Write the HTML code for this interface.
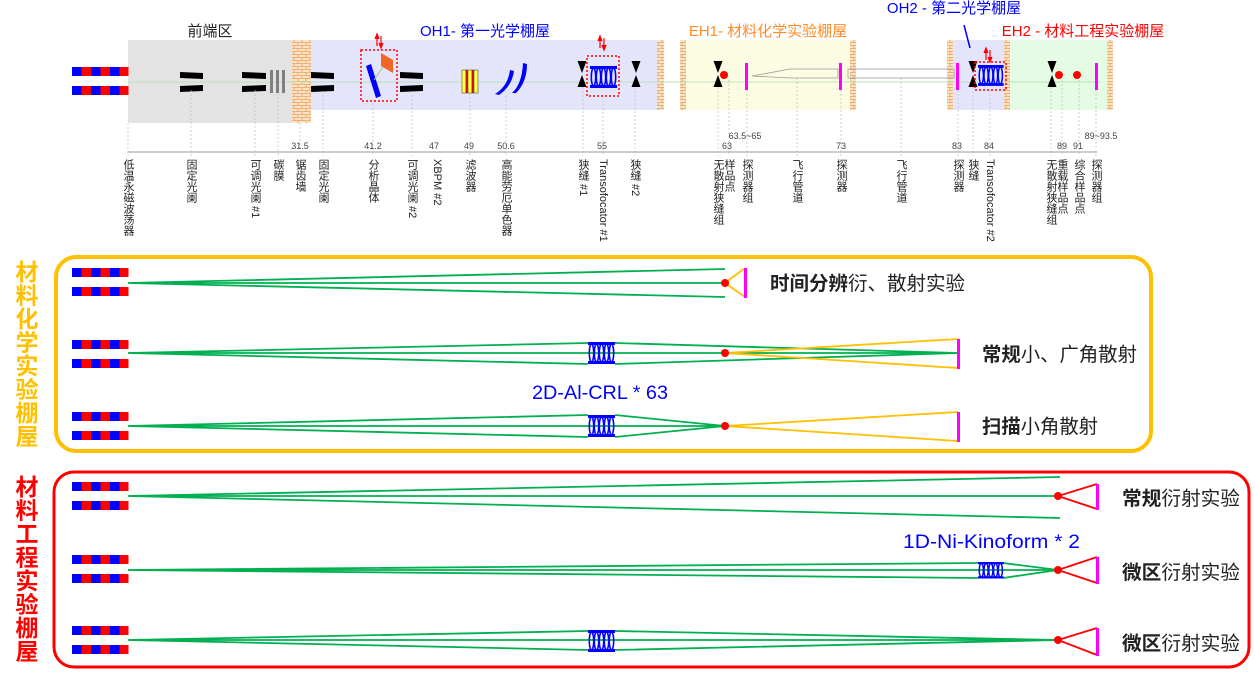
<!DOCTYPE html>
<html><head><meta charset="utf-8"><style>
body{margin:0;background:#fff;}
svg{display:block;font-family:"Liberation Sans","Noto Sans CJK SC",sans-serif;}
.vl{font-size:11px;fill:#222;writing-mode:tb;}
.num{font-size:9px;fill:#444;}
</style></head><body>
<svg width="1255" height="683" viewBox="0 0 1255 683" xmlns="http://www.w3.org/2000/svg">
<defs>
<pattern id="brick" width="8" height="6" patternUnits="userSpaceOnUse">
<rect width="8" height="6" fill="#fbe3c8"/>
<path d="M0 0.5H8M0 3.5H8M2 0.5V3.5M6 3.5V6" stroke="#e8a25a" stroke-width="0.8" fill="none"/>
</pattern>
<g id="und">
<rect x="0" y="0" width="9.5" height="9" fill="#0000ff"/><rect x="9.5" y="0" width="9.5" height="9" fill="#ff0000"/>
<rect x="19" y="0" width="9.5" height="9" fill="#0000ff"/><rect x="28.5" y="0" width="9.5" height="9" fill="#ff0000"/>
<rect x="38" y="0" width="9.5" height="9" fill="#0000ff"/><rect x="47.5" y="0" width="9" height="9" fill="#ff0000"/>
<rect x="0" y="19" width="9.5" height="9" fill="#0000ff"/><rect x="9.5" y="19" width="9.5" height="9" fill="#ff0000"/>
<rect x="19" y="19" width="9.5" height="9" fill="#0000ff"/><rect x="28.5" y="19" width="9.5" height="9" fill="#ff0000"/>
<rect x="38" y="19" width="9.5" height="9" fill="#0000ff"/><rect x="47.5" y="19" width="9" height="9" fill="#ff0000"/>
</g>
<g id="crl">
<rect x="0" y="0" width="27" height="3" fill="#0000ff"/><rect x="0" y="19" width="27" height="3" fill="#0000ff"/>
<g fill="none" stroke="#0000ff" stroke-width="1.6">
<ellipse cx="3.5" cy="11" rx="2.2" ry="9"/><ellipse cx="8.5" cy="11" rx="2.2" ry="9"/><ellipse cx="13.5" cy="11" rx="2.2" ry="9"/><ellipse cx="18.5" cy="11" rx="2.2" ry="9"/><ellipse cx="23.5" cy="11" rx="2.2" ry="9"/>
</g>
</g>
<g id="slit"><path d="M-4.5 0H4.5L0 12ZM-4.5 26H4.5L0 14Z" fill="#000"/></g>
</defs>

<rect x="128" y="40" width="164" height="83" fill="#e3e3e3"/>
<rect x="311" y="40" width="349" height="70" fill="#e4e4fb"/>
<rect x="680" y="40" width="175" height="70" fill="#fcfce3"/>
<rect x="947" y="40" width="62" height="70" fill="#e4e4fb"/>
<rect x="1009" y="40" width="103" height="70" fill="#e4fbe4"/>
<rect x="292" y="40" width="19" height="83" fill="url(#brick)"/>
<rect x="657" y="40" width="7" height="70" fill="url(#brick)"/>
<rect x="680" y="40" width="6" height="70" fill="url(#brick)"/>
<rect x="850" y="40" width="6" height="70" fill="url(#brick)"/>
<rect x="947" y="40" width="6" height="70" fill="url(#brick)"/>
<rect x="1004" y="40" width="6" height="70" fill="url(#brick)"/>
<rect x="1107" y="40" width="6" height="70" fill="url(#brick)"/>

<text x="210" y="36" font-size="15" text-anchor="middle" fill="#222">前端区</text>
<text x="485" y="36" font-size="15" text-anchor="middle" fill="#0000ff">OH1- 第一光学棚屋</text>
<text x="768" y="36" font-size="15" text-anchor="middle" fill="#ff8c2a">EH1- 材料化学实验棚屋</text>
<text x="954" y="13" font-size="15" text-anchor="middle" fill="#0000ff">OH2 - 第二光学棚屋</text>
<text x="1083" y="36" font-size="15" text-anchor="middle" fill="#ff0000">EH2 - 材料工程实验棚屋</text>
<path d="M964 25L970 48" stroke="#0000ff" stroke-width="1.5"/>

<use href="#und" x="72" y="67"/>
<line x1="128" y1="82" x2="1100" y2="82" stroke="#b9e3b9" stroke-width="1"/>

<path d="M180 72L203 73L203 79L180 78ZM180 86L203 85L203 91L180 92Z" fill="#000"/>
<path d="M242 72L266 73L266 79L242 78ZM242 86L266 85L266 91L242 92Z" fill="#000"/>
<rect x="270" y="70" width="3" height="23" fill="#808080"/><rect x="276" y="70" width="3" height="23" fill="#808080"/><rect x="282" y="70" width="3" height="23" fill="#808080"/>
<path d="M311 72L334 73L334 79L311 78ZM311 86L334 85L334 91L311 92Z" fill="#000"/>
<rect x="361" y="50" width="36" height="51" fill="none" stroke="#ff0000" stroke-width="1.5" stroke-dasharray="2,2"/>
<path d="M366 66L371 64L381 96L376 98Z" fill="#0000ff"/>
<path d="M381 53L393 60L393 73L381 66Z" fill="#f26522"/>
<path d="M374 80L383 67" stroke="#8fd18f" stroke-width="1"/>
<path d="M377 46V36M375 39L377 34L379 39M381 36V46M379 43L381 48L383 43" stroke="#ff0000" stroke-width="1.2" fill="#ff0000"/>
<path d="M400 72L423 73L423 79L400 78ZM400 86L423 85L423 91L400 92Z" fill="#000"/>
<g stroke="#333" stroke-width="0.5"><rect x="462" y="70" width="4" height="23" fill="#ffff44"/><rect x="466" y="70" width="1.5" height="23" fill="#ff0000"/><rect x="468" y="70" width="4" height="23" fill="#ffff44"/><rect x="472" y="70" width="1.5" height="23" fill="#ff0000"/><rect x="474" y="70" width="4" height="23" fill="#ffff44"/></g>
<path d="M510 70Q508 86 495 94L499 95Q512 86 514 71Z" fill="#0000ff"/>
<path d="M523 63Q522 84 512 93L516 93Q527 82 527 64Z" fill="#0000ff"/>
<use href="#slit" x="582" y="61"/>
<rect x="587" y="56" width="32" height="40" fill="none" stroke="#ff0000" stroke-width="1.5" stroke-dasharray="2,2"/>
<use href="#crl" x="590" y="66"/>
<path d="M600 48V38M598 41L600 36L602 41M604 38V48M602 45L604 50L606 45" stroke="#ff0000" stroke-width="1.2" fill="#ff0000"/>
<use href="#slit" x="636" y="61"/>
<use href="#slit" x="718" y="61"/>
<circle cx="724" cy="75" r="4" fill="#ff0000"/>
<rect x="745" y="63" width="3" height="27" fill="#ff00ff"/>
<path d="M752 76L790 69H838V78H790Z" fill="none" stroke="#999" stroke-width="0.8"/>
<rect x="839" y="63" width="3" height="27" fill="#ff00ff"/>
<rect x="848" y="69" width="106" height="9" fill="none" stroke="#999" stroke-width="0.8"/>
<rect x="956" y="63" width="3" height="27" fill="#ff00ff"/>
<use href="#slit" x="973" y="61"/>
<rect x="975" y="62" width="31" height="28" fill="none" stroke="#ff0000" stroke-width="1.5" stroke-dasharray="2,2"/>
<g transform="translate(978,65) scale(0.95,0.95)"><use href="#crl"/></g>
<path d="M986 60V50M984 53L986 48L988 53M990 50V60M988 57L990 62L992 57" stroke="#ff0000" stroke-width="1.2" fill="#ff0000"/>
<use href="#slit" x="1052" y="61"/>
<circle cx="1059" cy="75" r="4" fill="#ff0000"/>
<circle cx="1077" cy="75" r="4" fill="#ff0000"/>
<rect x="1095" y="63" width="3" height="27" fill="#ff00ff"/>

<line x1="128" y1="152" x2="1097" y2="152" stroke="#bbb" stroke-width="1.5"/>
<g stroke="#bbb" stroke-width="0.7" stroke-dasharray="2,2">
<path d="M128 123V156M191 90V156M255 90V156M278 93V156M300 123V156M323 91V156M373 100V156M412 91V156M470 93V156M506 96V156M583 87V156M603 96V156M635 87V156M718 87V156M729 80V156M747 90V156M797 78V156M841 90V156M901 78V156M958 90V156M973 87V156M990 90V156M1051 87V156M1062 80V156M1079 80V156M1096 90V156"/>
</g>
<g class="num" text-anchor="middle">
<text x="300" y="149">31.5</text><text x="373" y="149">41.2</text><text x="434" y="149">47</text><text x="469" y="149">49</text><text x="506" y="149">50.6</text><text x="602" y="149">55</text><text x="727" y="149">63</text><text x="745" y="139">63.5~65</text><text x="841" y="149">73</text><text x="957" y="149">83</text><text x="989" y="149">84</text><text x="1062" y="149">89</text><text x="1078" y="149">91</text><text x="1101" y="139">89~93.5</text>
</g>
<g class="vl">
<text x="128" y="159">低温永磁波荡器</text>
<text x="191" y="159">固定光阑</text>
<text x="255" y="159">可调光阑 #1</text>
<text x="278" y="159">碳膜</text>
<text x="300" y="159">锯齿墙</text>
<text x="323" y="159">固定光阑</text>
<text x="373" y="159">分析晶体</text>
<text x="412" y="159">可调光阑 #2</text>
<text x="437" y="159">XBPM #2</text>
<text x="470" y="159">滤波器</text>
<text x="506" y="159">高能劳厄单色器</text>
<text x="583" y="159">狭缝 #1</text>
<text x="603" y="159">Transofocator #1</text>
<text x="635" y="159">狭缝 #2</text>
<text x="718" y="159">无散射狭缝组</text>
<text x="729" y="159">样品点</text>
<text x="747" y="159">探测器组</text>
<text x="797" y="159">飞行管道</text>
<text x="841" y="159">探测器</text>
<text x="901" y="159">飞行管道</text>
<text x="958" y="159">探测器</text>
<text x="973" y="159">狭缝</text>
<text x="990" y="159">Transofocator #2</text>
<text x="1051" y="159">无散射狭缝组</text>
<text x="1062" y="159">重载样品点</text>
<text x="1079" y="159">综合样品点</text>
<text x="1096" y="159">探测器组</text>
</g>

<rect x="56" y="257" width="1095" height="194" rx="20" fill="none" stroke="#ffc000" stroke-width="4"/>
<text x="25" y="260" font-size="23" font-weight="bold" fill="#ffc000" style="writing-mode:tb;letter-spacing:0.5px">材料化学实验棚屋</text>
<use href="#und" x="72" y="268"/><use href="#und" x="72" y="340"/><use href="#und" x="72" y="412"/>
<g stroke="#00b050" stroke-width="1.8" fill="none">
<path d="M128 283L725 269M128 283L725 283M128 283L725 297"/>
<path d="M128 353L588 343M615 343L958 353M128 353L958 353M128 353L588 364M615 364L958 353"/>
<path d="M128 426L588 415M615 415L725 426M128 426L725 426M128 426L588 437M615 437L725 426"/>
</g>
<use href="#crl" x="588" y="342"/><use href="#crl" x="588" y="415"/>
<g stroke="#ffc000" stroke-width="1.8" fill="none">
<path d="M745 268L725 283L745 297"/>
<path d="M958 339L725 353L958 368"/>
<path d="M958 412L725 426L958 441"/>
</g>
<circle cx="725" cy="283" r="4" fill="#ff0000"/><circle cx="725" cy="353" r="4" fill="#ff0000"/><circle cx="725" cy="426" r="4" fill="#ff0000"/>
<rect x="744" y="268" width="3" height="30" fill="#ff00ff"/>
<rect x="957" y="339" width="3" height="30" fill="#ff00ff"/>
<rect x="957" y="412" width="3" height="30" fill="#ff00ff"/>
<text x="532" y="399" font-size="19" fill="#0000ff" textLength="136" lengthAdjust="spacingAndGlyphs">2D-Al-CRL * 63</text>
<g font-size="19.5" fill="#222">
<text x="770" y="290" textLength="195" lengthAdjust="spacingAndGlyphs"><tspan font-weight="bold">时间分辨</tspan>衍、散射实验</text>
<text x="982" y="361" textLength="155" lengthAdjust="spacingAndGlyphs"><tspan font-weight="bold">常规</tspan>小、广角散射</text>
<text x="982" y="433" textLength="116" lengthAdjust="spacingAndGlyphs"><tspan font-weight="bold">扫描</tspan>小角散射</text>
</g>

<rect x="54" y="472" width="1195" height="195" rx="20" fill="none" stroke="#ff0000" stroke-width="3"/>
<text x="25" y="475" font-size="23" font-weight="bold" fill="#ff0000" style="writing-mode:tb;letter-spacing:0.5px">材料工程实验棚屋</text>
<use href="#und" x="72" y="482"/><use href="#und" x="72" y="555"/><use href="#und" x="72" y="626"/>
<g stroke="#00b050" stroke-width="1.8" fill="none">
<path d="M128 496L1060 477M128 496L1058 496M128 496L1060 518"/>
<path d="M128 570L978 563M1003 563L1058 570M128 570L1058 570M128 570L978 578M1003 578L1058 570"/>
<path d="M128 640L588 631M615 631L1058 640M128 640L1058 640M128 640L588 650M615 650L1058 640"/>
</g>
<g transform="translate(978,562) scale(0.95,0.75)"><use href="#crl"/></g>
<use href="#crl" x="588" y="630"/>
<g stroke="#ff0000" stroke-width="1.8" fill="none">
<path d="M1097 484L1058 496L1097 509"/>
<path d="M1097 557L1058 570L1097 583"/>
<path d="M1097 628L1058 640L1097 655"/>
</g>
<circle cx="1058" cy="496" r="4" fill="#ff0000"/><circle cx="1058" cy="570" r="4" fill="#ff0000"/><circle cx="1058" cy="640" r="4" fill="#ff0000"/>
<rect x="1096" y="484" width="3" height="26" fill="#ff00ff"/>
<rect x="1096" y="557" width="3" height="27" fill="#ff00ff"/>
<rect x="1096" y="628" width="3" height="28" fill="#ff00ff"/>
<text x="903" y="548" font-size="19" fill="#0000ff" textLength="177" lengthAdjust="spacingAndGlyphs">1D-Ni-Kinoform * 2</text>
<g font-size="19.5" fill="#222">
<text x="1122" y="505" textLength="118" lengthAdjust="spacingAndGlyphs"><tspan font-weight="bold">常规</tspan>衍射实验</text>
<text x="1122" y="579" textLength="118" lengthAdjust="spacingAndGlyphs"><tspan font-weight="bold">微区</tspan>衍射实验</text>
<text x="1122" y="650" textLength="118" lengthAdjust="spacingAndGlyphs"><tspan font-weight="bold">微区</tspan>衍射实验</text>
</g>
</svg>
</body></html>
